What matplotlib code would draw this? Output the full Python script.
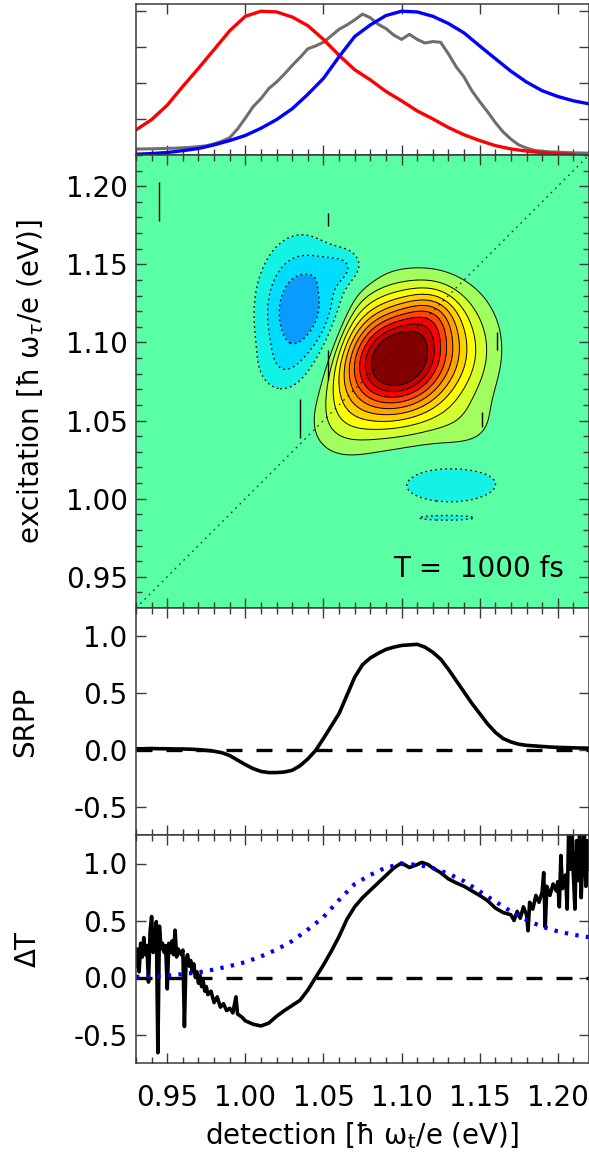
import numpy as np
import matplotlib
matplotlib.use('Agg')
import matplotlib.pyplot as plt
from matplotlib.ticker import MultipleLocator, FormatStrFormatter

plt.rcParams['font.family'] = ['DejaVu Sans']
plt.rcParams['font.size'] = 20
plt.rcParams['mathtext.fontset'] = 'dejavusans'

E_MIN, E_MAX = 0.93, 1.22

# pump (red) and probe (blue) laser spectra, normalised
red_e = [0.93, 0.94, 0.95, 0.96, 0.97, 0.98, 0.99, 1.00, 1.01, 1.02,
         1.03, 1.04, 1.05, 1.06, 1.07, 1.08, 1.09, 1.10, 1.11, 1.12,
         1.13, 1.14, 1.15, 1.16, 1.17, 1.18, 1.19, 1.20, 1.21]
red_v = [0.174, 0.245, 0.345, 0.475, 0.60, 0.73, 0.86, 0.96, 0.995, 0.99,
         0.955, 0.895, 0.80, 0.69, 0.59, 0.52, 0.44, 0.375, 0.305, 0.25,
         0.19, 0.14, 0.10, 0.065, 0.042, 0.027, 0.016, 0.009, 0.005]

blue_e = [0.93, 0.94, 0.95, 0.96, 0.97, 0.98, 0.99, 1.00, 1.01, 1.02,
          1.03, 1.04, 1.05, 1.06, 1.07, 1.08, 1.09, 1.10, 1.11, 1.12,
          1.13, 1.14, 1.15, 1.16, 1.17, 1.18, 1.19, 1.20, 1.21, 1.22]
blue_v = [0.005, 0.01, 0.017, 0.03, 0.045, 0.07, 0.10, 0.135, 0.185, 0.245,
          0.32, 0.42, 0.53, 0.68, 0.82, 0.90, 0.965, 0.995, 0.99, 0.96,
          0.91, 0.845, 0.755, 0.667, 0.58, 0.505, 0.445, 0.405, 0.375, 0.354]

# emission spectrum of the sample (gray)
pl_e = [0.930, 0.935, 0.940, 0.945, 0.950, 0.955, 0.960, 0.965, 0.970, 0.975,
        0.980, 0.985, 0.990, 0.995, 1.000, 1.005, 1.010, 1.015, 1.020, 1.025,
        1.030, 1.035, 1.040, 1.045, 1.050, 1.055, 1.060, 1.065, 1.070, 1.075,
        1.080, 1.085, 1.090, 1.095, 1.100, 1.105, 1.110, 1.115, 1.120, 1.125,
        1.130, 1.135, 1.140, 1.145, 1.150, 1.155, 1.160, 1.165, 1.170, 1.175,
        1.180, 1.185, 1.190, 1.195, 1.200, 1.205, 1.210, 1.215, 1.220]
pl_v = [0.041, 0.042, 0.043, 0.044, 0.046, 0.047, 0.050, 0.053, 0.058, 0.064,
        0.078, 0.095, 0.120, 0.180, 0.255, 0.335, 0.39, 0.46, 0.505, 0.56,
        0.62, 0.675, 0.735, 0.755, 0.78, 0.825, 0.87, 0.90, 0.935, 0.975,
        0.95, 0.905, 0.875, 0.83, 0.80, 0.835, 0.80, 0.775, 0.785, 0.78,
        0.70, 0.61, 0.54, 0.445, 0.37, 0.30, 0.225, 0.16, 0.11, 0.07,
        0.048, 0.032, 0.026, 0.022, 0.02, 0.017, 0.015, 0.014, 0.013]

# spectrally resolved pump-probe signal
srpp_e = pl_e
srpp_v = [0.010, 0.010, 0.012, 0.010, 0.010, 0.008, 0.008, 0.006, 0.002, -0.004,
          -0.012, -0.025, -0.05, -0.09, -0.13, -0.165, -0.19, -0.20, -0.20, -0.195,
          -0.18, -0.14, -0.08, -0.005, 0.10, 0.21, 0.32, 0.48, 0.64, 0.75,
          0.81, 0.85, 0.885, 0.905, 0.92, 0.925, 0.93, 0.905, 0.86, 0.80,
          0.71, 0.61, 0.51, 0.41, 0.32, 0.23, 0.155, 0.10, 0.07, 0.05,
          0.04, 0.035, 0.03, 0.025, 0.022, 0.02, 0.018, 0.016, 0.015]

# transient transmission (noisy at the spectral edges)
dt_e = [0.930, 0.931, 0.932, 0.933, 0.934, 0.935, 0.936, 0.937, 0.938, 0.939,
        0.940, 0.941, 0.942, 0.943, 0.944, 0.945, 0.946, 0.947, 0.948, 0.949,
        0.950, 0.951, 0.952, 0.953, 0.954, 0.955, 0.956, 0.957, 0.958, 0.959,
        0.960, 0.961, 0.962, 0.963, 0.964, 0.965, 0.966, 0.967, 0.968, 0.969,
        0.970, 0.971, 0.972, 0.973, 0.974, 0.975, 0.976, 0.978, 0.980, 0.982,
        0.984, 0.986, 0.988, 0.990, 0.992, 0.994, 0.995, 0.998, 1.000, 1.005,
        1.010, 1.015, 1.020, 1.025, 1.030, 1.035, 1.040, 1.045, 1.050, 1.055,
        1.060, 1.065, 1.070, 1.075, 1.080, 1.085, 1.090, 1.095, 1.100, 1.105,
        1.110, 1.113, 1.117, 1.120, 1.125, 1.130, 1.135, 1.140, 1.145, 1.150,
        1.155, 1.160, 1.165, 1.170, 1.172, 1.174, 1.176, 1.178, 1.180, 1.181,
        1.182, 1.184, 1.186, 1.188, 1.190, 1.191, 1.192, 1.193, 1.195, 1.197,
        1.199, 1.200, 1.201, 1.202, 1.203, 1.205, 1.206, 1.207, 1.208, 1.209,
        1.210, 1.211, 1.212, 1.213, 1.214, 1.215, 1.216, 1.217, 1.218, 1.219,
        1.220]
dt_v = [0.10, 0.25, 0.05, 0.30, 0.18, 0.35, 0.20, 0.28, -0.04, 0.40,
        0.535, 0.22, 0.30, 0.49, -0.66, 0.45, 0.25, 0.30, 0.22, 0.28,
        -0.10, 0.30, 0.22, 0.32, 0.20, 0.415, 0.18, 0.25, 0.22, 0.20,
        0.24, -0.43, 0.15, 0.20, 0.10, 0.15, 0.05, 0.12, 0.00, 0.05,
        -0.05, 0.02, -0.08, -0.03, -0.12, -0.08, -0.15, -0.12, -0.22, -0.17,
        -0.26, -0.23, -0.29, -0.27, -0.31, -0.17, -0.32, -0.35, -0.38, -0.41,
        -0.425, -0.40, -0.34, -0.29, -0.245, -0.20, -0.11, 0.0, 0.11, 0.23,
        0.36, 0.51, 0.62, 0.70, 0.765, 0.83, 0.895, 0.96, 1.005, 0.965,
        0.99, 1.01, 0.99, 0.96, 0.92, 0.865, 0.83, 0.80, 0.76, 0.72,
        0.675, 0.61, 0.57, 0.55, 0.50, 0.58, 0.52, 0.62, 0.55, 0.41,
        0.66, 0.60, 0.72, 0.66, 0.75, 0.92, 0.44, 0.80, 0.72, 0.82,
        0.76, 0.84, 0.62, 1.07, 0.78, 0.90, 0.60, 1.30, 0.95, 1.28,
        0.90, 0.60, 1.20, 0.85, 1.28, 0.70, 1.10, 1.28, 0.80, 1.20,
        0.95]

# 2D spectrum: peak components (detection, excitation, amplitude, widths, tilt)
peak_det = [1.098, 1.120, 1.060, 1.150, 1.140,
            1.036, 1.055, 1.062, 1.022, 1.131, 1.1285]
peak_exc = [1.089, 1.118, 1.045, 1.085, 1.045,
            1.118, 1.108, 1.148, 1.082, 1.0097, 0.9876]
peak_amp = [1.10, 0.15, 0.08, 0.04, 0.07,
            -0.38, -0.08, -0.12, -0.06, -0.16, -0.11]
peak_wdet = [0.028, 0.012, 0.016, 0.014, 0.018,
             0.018, 0.010, 0.012, 0.012, 0.028, 0.0195]
peak_wexc = [0.026, 0.012, 0.016, 0.030, 0.014,
             0.030, 0.030, 0.008, 0.012, 0.011, 0.0015]
peak_rho = [0.15, 0.0, 0.0, 0.0, 0.0,
            0.0, 0.7, 0.0, 0.0, 0.0, 0.0]

# short vertical streaks in the 2D map
streak_det = [0.945, 1.035, 1.0527, 1.0527, 1.161, 1.1513]
streak_lo = [1.178, 1.039, 1.1745, 1.076, 1.095, 1.046]
streak_hi = [1.203, 1.064, 1.183, 1.095, 1.107, 1.0555]

fill_levels = [-1, -0.27, -0.18, -0.09, 0.09, 0.18, 0.27, 0.36, 0.45,
               0.54, 0.63, 0.72, 0.81, 0.9, 2]
fill_colors = ['#0A9BFF', '#00DCFF', '#14F2E6', '#5AFFA5', '#A0FF5F',
               '#D2FF2D', '#FFFF00', '#FFD200', '#FFA500', '#FF7800',
               '#FF4600', '#FF0000', '#C80000', '#820000']
pos_levels = [0.09, 0.18, 0.27, 0.36, 0.45, 0.54, 0.63, 0.72, 0.81, 0.9]
neg_levels = [-0.27, -0.18, -0.09]

AX_COLOR = '#3a3a3a'


def map2d(det, exc):
    z = np.zeros_like(det)
    for x0, y0, a, sx, sy, r in zip(peak_det, peak_exc, peak_amp,
                                    peak_wdet, peak_wexc, peak_rho):
        u = (det - x0) / sx
        v = (exc - y0) / sy
        z += a * np.exp(-(u * u + v * v - 2 * r * u * v) / (2 * (1 - r * r)))
    return z


def style(ax, xminor=True, topminor=True, yminor=None):
    ax.set_xlim(E_MIN, E_MAX)
    ax.xaxis.set_major_locator(MultipleLocator(0.05))
    if xminor:
        ax.xaxis.set_minor_locator(MultipleLocator(0.01))
    if yminor:
        ax.yaxis.set_minor_locator(MultipleLocator(yminor))
    ax.tick_params(which='both', direction='in', top=True, right=True,
                   color=AX_COLOR, width=1.0, labelsize=20)
    ax.tick_params(which='major', length=7.2, pad=6)
    ax.tick_params(which='minor', length=4.0)
    if not topminor:
        ax.tick_params(which='minor', top=False)
    ax.tick_params(axis='x', labelbottom=False)
    for s in ax.spines.values():
        s.set_color(AX_COLOR)
        s.set_linewidth(1.1)


W, H = 589, 1153
fig = plt.figure(figsize=(W / 100, H / 100), dpi=100)


def add_panel(top_px, bottom_px):
    return fig.add_axes([136 / W, 1 - bottom_px / H, 1 - 136 / W,
                         (bottom_px - top_px) / H])


ax_spec = add_panel(4, 155)
ax_map = add_panel(155, 608)
ax_srpp = add_panel(608, 835)
ax_dt = add_panel(835, 1063)

# --- laser spectra
ax_spec.plot(pl_e, pl_v, color='#6E6E6E', lw=2.2)
ax_spec.plot(red_e, red_v, color='#FF0000', lw=2.4)
ax_spec.plot(blue_e, blue_v, color='#0000FF', lw=2.4)
ax_spec.set_ylim(0, 1.045)
ax_spec.yaxis.set_major_locator(MultipleLocator(0.25))
style(ax_spec, topminor=False)
ax_spec.tick_params(axis='y', labelleft=False)

# --- 2D spectrum
grid = np.linspace(E_MIN, E_MAX, 500)
DET, EXC = np.meshgrid(grid, grid)
Z = map2d(DET, EXC)
ax_map.set_facecolor('#5AFFA5')
ax_map.contourf(DET, EXC, Z, levels=fill_levels, colors=fill_colors)
ax_map.contour(DET, EXC, Z, levels=pos_levels, colors='k', linewidths=0.7)
ax_map.contour(DET, EXC, Z, levels=neg_levels, colors='k', linewidths=0.9,
               linestyles=[(0, (1.5, 2.5))])
ax_map.vlines(streak_det, streak_lo, streak_hi, colors='k', lw=1.0)
ax_map.axline((1.0, 1.0), slope=1, color='k', lw=0.8, ls=(0, (1.5, 4)))
ax_map.set_ylim(E_MIN, E_MAX)
ax_map.yaxis.set_major_locator(MultipleLocator(0.05))
ax_map.yaxis.set_major_formatter(FormatStrFormatter('%.2f'))
style(ax_map, yminor=0.01)
ax_map.text(0.945, 0.0684, 'T =  1000 fs', transform=ax_map.transAxes,
            ha='right', va='baseline', fontsize=20)
ax_map.text(-0.232, 0.5, 'excitation [ħ ω$_\\tau$/e (eV)]',
            transform=ax_map.transAxes, rotation=90, ha='center', va='center')

# --- SRPP
ax_srpp.axhline(0, color='k', lw=2.4, dashes=(4.8, 4.2))
ax_srpp.plot(srpp_e, srpp_v, color='k', lw=2.6)
ax_srpp.set_ylim(-0.75, 1.25)
ax_srpp.yaxis.set_major_locator(MultipleLocator(0.5))
ax_srpp.yaxis.set_major_formatter(FormatStrFormatter('%.1f'))
style(ax_srpp)
ax_srpp.text(-0.245, 0.5, 'SRPP', transform=ax_srpp.transAxes,
             rotation=90, ha='center', va='center')

# --- transient transmission
ax_dt.axhline(0, color='k', lw=2.4, dashes=(4.8, 4.2))
ax_dt.plot(dt_e, dt_v, color='k', lw=2.6)
ax_dt.plot(blue_e, blue_v, color='#0000FF', lw=3.0, dashes=(0.8, 1.75))
ax_dt.set_ylim(-0.75, 1.25)
ax_dt.yaxis.set_major_locator(MultipleLocator(0.5))
ax_dt.yaxis.set_major_formatter(FormatStrFormatter('%.1f'))
style(ax_dt)
ax_dt.tick_params(axis='x', labelbottom=True, pad=15)
ax_dt.xaxis.set_major_formatter(FormatStrFormatter('%.2f'))
ax_dt.text(-0.238, 0.5, 'ΔT', transform=ax_dt.transAxes,
           rotation=90, ha='center', va='center')
ax_dt.set_xlabel('detection [ħ ω$_\\mathrm{t}$/e (eV)]', labelpad=6)

fig.savefig('out.png', dpi=100)
